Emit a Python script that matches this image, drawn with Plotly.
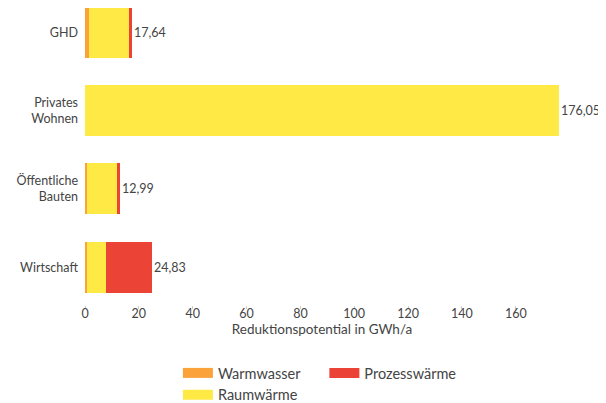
import plotly.graph_objects as go

categories = ["Wirtschaft", "Öffentliche<br>Bauten", "Privates<br>Wohnen", "GHD"]
warmwasser = [0.7, 0.8, 0.0, 1.6]
raumwaerme = [7.0, 11.45, 176.05, 14.6]
prozesswaerme = [17.13, 0.74, 0.0, 1.44]
total_labels = ["24,83", "12,99", "176,05", "17,64"]
x_ticks = [0, 20, 40, 60, 80, 100, 120, 140, 160]

series = [
    ("Warmwasser", warmwasser, "#FBA23B", "legend"),
    ("Raumwärme", raumwaerme, "#FFE944", "legend"),
    ("Prozesswärme", prozesswaerme, "#EB4335", "legend2"),
]

FONT = "Lato, 'Open Sans', sans-serif"
TXT = "#444444"

fig = go.Figure()
for name, vals, col, leg in series:
    fig.add_trace(go.Bar(
        y=categories, x=vals, orientation="h", name=name,
        marker=dict(color=col, line=dict(width=0)),
        width=0.65, showlegend=False, legendgroup=name,
        hovertemplate="%{y}: %{x}<extra>" + name + "</extra>",
    ))
for name, vals, col, leg in series:
    fig.add_trace(go.Scatter(
        x=[None], y=[None], mode="lines", name=name,
        line=dict(color=col, width=10), legendgroup=name,
        legend=leg, showlegend=True,
    ))

totals = [a + b + c for a, b, c in zip(warmwasser, raumwaerme, prozesswaerme)]
for cat, tot, lab in zip(categories, totals, total_labels):
    fig.add_annotation(x=tot, y=cat, text=lab, showarrow=False,
                       xanchor="left", xshift=0,
                       font=dict(family=FONT, size=12.5, color=TXT))

leg_common = dict(orientation="v", xanchor="left", yanchor="top",
                  traceorder="normal", font=dict(size=14.5, color=TXT),
                  itemclick=False, tracegroupgap=0, bgcolor="rgba(0,0,0,0)")

fig.update_layout(
    barmode="stack",
    width=598, height=395,
    margin=dict(l=77, r=47, t=0, b=98, autoexpand=False),
    paper_bgcolor="white", plot_bgcolor="white",
    font=dict(family=FONT, size=13, color=TXT),
    xaxis=dict(range=[0, 176.05], tickvals=x_ticks, showgrid=False,
               zeroline=False, showline=False, ticks="outside",
               ticklen=3, tickcolor="#cccccc", automargin=False,
               ticklabelstandoff=-6,
               title=dict(text="Reduktionspotential in GWh/a",
                          font=dict(size=13.5, color=TXT), standoff=2),
               tickfont=dict(size=12.5, color=TXT)),
    yaxis=dict(range=[-0.483, 3.31], showgrid=False, zeroline=False,
               showline=False, ticks="", ticklabelstandoff=6,
               automargin=False,
               tickfont=dict(size=12.5, color=TXT)),
    legend=dict(x=0.196, y=-0.175, **leg_common),
    legend2=dict(x=0.505, y=-0.175, **leg_common),
    showlegend=True,
)

fig.write_html("out.html")
